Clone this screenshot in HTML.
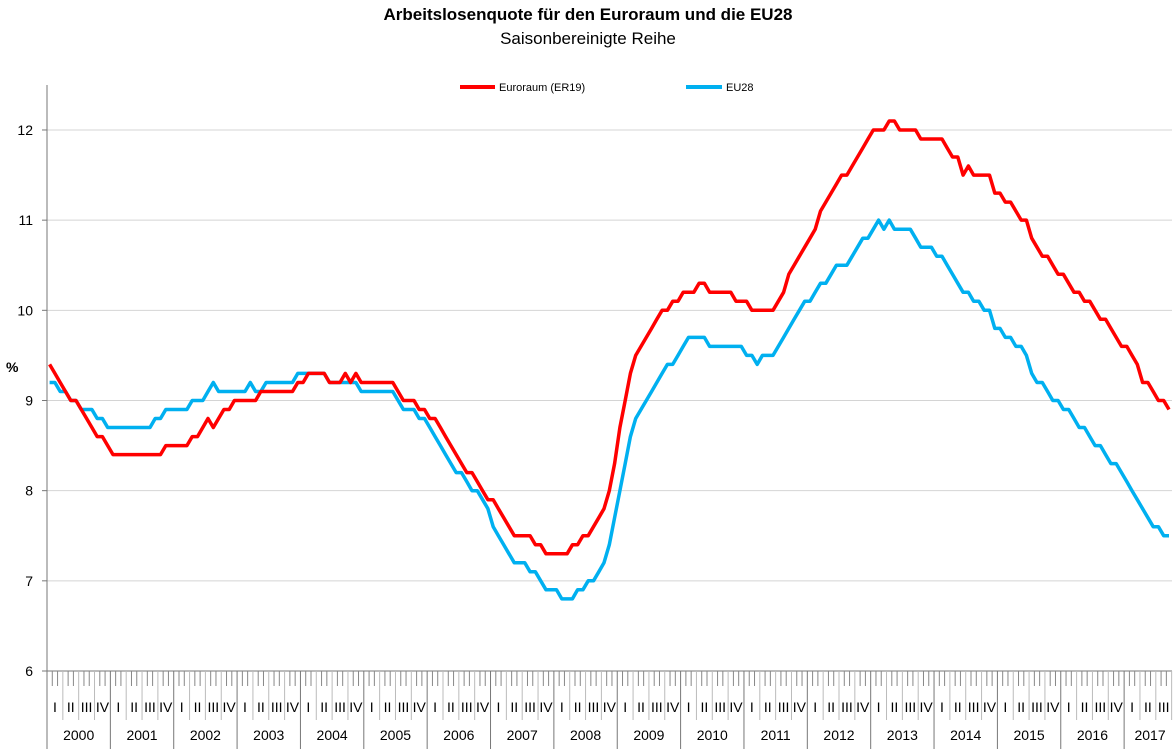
<!DOCTYPE html>
<html><head><meta charset="utf-8">
<style>
html,body{margin:0;padding:0;background:#fff;}
svg{display:block;font-family:"Liberation Sans",Arial,sans-serif;}
</style></head>
<body>
<svg id="chart" width="1175" height="749" viewBox="0 0 1175 749">
<text x="588" y="20" text-anchor="middle" font-size="17" font-weight="bold">Arbeitslosenquote für den Euroraum und die EU28</text>
<text x="588" y="44" text-anchor="middle" font-size="17">Saisonbereinigte Reihe</text>
<g>
<line x1="460" y1="87" x2="495" y2="87" stroke="#ff0000" stroke-width="4"/>
<text x="499" y="91" font-size="11">Euroraum (ER19)</text>
<line x1="686" y1="87" x2="722" y2="87" stroke="#00b0f0" stroke-width="4"/>
<text x="726" y="91" font-size="11">EU28</text>
</g>
<text x="6" y="372" font-size="14" font-weight="bold">%</text>
<g id="grid"></g><g id="axes"></g><g id="series"></g>
</svg>
<script>
const yTicks=[6,7,8,9,10,11,12];
const years=["2000","2001","2002","2003","2004","2005","2006","2007","2008","2009","2010","2011","2012","2013","2014","2015","2016","2017"];
const quarters=["I","II","III","IV"];
const euro=[
9.4,9.3,9.2,9.1,9.0,9.0,8.9,8.8,8.7,8.6,8.6,8.5,
8.4,8.4,8.4,8.4,8.4,8.4,8.4,8.4,8.4,8.4,8.5,8.5,
8.5,8.5,8.5,8.6,8.6,8.7,8.8,8.7,8.8,8.9,8.9,9.0,
9.0,9.0,9.0,9.0,9.1,9.1,9.1,9.1,9.1,9.1,9.1,9.2,
9.2,9.3,9.3,9.3,9.3,9.2,9.2,9.2,9.3,9.2,9.3,9.2,
9.2,9.2,9.2,9.2,9.2,9.2,9.1,9.0,9.0,9.0,8.9,8.9,
8.8,8.8,8.7,8.6,8.5,8.4,8.3,8.2,8.2,8.1,8.0,7.9,
7.9,7.8,7.7,7.6,7.5,7.5,7.5,7.5,7.4,7.4,7.3,7.3,
7.3,7.3,7.3,7.4,7.4,7.5,7.5,7.6,7.7,7.8,8.0,8.3,
8.7,9.0,9.3,9.5,9.6,9.7,9.8,9.9,10.0,10.0,10.1,10.1,
10.2,10.2,10.2,10.3,10.3,10.2,10.2,10.2,10.2,10.2,10.1,10.1,
10.1,10.0,10.0,10.0,10.0,10.0,10.1,10.2,10.4,10.5,10.6,10.7,
10.8,10.9,11.1,11.2,11.3,11.4,11.5,11.5,11.6,11.7,11.8,11.9,
12.0,12.0,12.0,12.1,12.1,12.0,12.0,12.0,12.0,11.9,11.9,11.9,
11.9,11.9,11.8,11.7,11.7,11.5,11.6,11.5,11.5,11.5,11.5,11.3,
11.3,11.2,11.2,11.1,11.0,11.0,10.8,10.7,10.6,10.6,10.5,10.4,
10.4,10.3,10.2,10.2,10.1,10.1,10.0,9.9,9.9,9.8,9.7,9.6,
9.6,9.5,9.4,9.2,9.2,9.1,9.0,9.0,8.9];
const eu28=[
9.2,9.2,9.1,9.1,9.0,9.0,8.9,8.9,8.9,8.8,8.8,8.7,
8.7,8.7,8.7,8.7,8.7,8.7,8.7,8.7,8.8,8.8,8.9,8.9,
8.9,8.9,8.9,9.0,9.0,9.0,9.1,9.2,9.1,9.1,9.1,9.1,
9.1,9.1,9.2,9.1,9.1,9.2,9.2,9.2,9.2,9.2,9.2,9.3,
9.3,9.3,9.3,9.3,9.3,9.2,9.2,9.2,9.2,9.2,9.2,9.1,
9.1,9.1,9.1,9.1,9.1,9.1,9.0,8.9,8.9,8.9,8.8,8.8,
8.7,8.6,8.5,8.4,8.3,8.2,8.2,8.1,8.0,8.0,7.9,7.8,
7.6,7.5,7.4,7.3,7.2,7.2,7.2,7.1,7.1,7.0,6.9,6.9,
6.9,6.8,6.8,6.8,6.9,6.9,7.0,7.0,7.1,7.2,7.4,7.7,
8.0,8.3,8.6,8.8,8.9,9.0,9.1,9.2,9.3,9.4,9.4,9.5,
9.6,9.7,9.7,9.7,9.7,9.6,9.6,9.6,9.6,9.6,9.6,9.6,
9.5,9.5,9.4,9.5,9.5,9.5,9.6,9.7,9.8,9.9,10.0,10.1,
10.1,10.2,10.3,10.3,10.4,10.5,10.5,10.5,10.6,10.7,10.8,10.8,
10.9,11.0,10.9,11.0,10.9,10.9,10.9,10.9,10.8,10.7,10.7,10.7,
10.6,10.6,10.5,10.4,10.3,10.2,10.2,10.1,10.1,10.0,10.0,9.8,
9.8,9.7,9.7,9.6,9.6,9.5,9.3,9.2,9.2,9.1,9.0,9.0,
8.9,8.9,8.8,8.7,8.7,8.6,8.5,8.5,8.4,8.3,8.3,8.2,
8.1,8.0,7.9,7.8,7.7,7.6,7.6,7.5,7.5];

const NS="http://www.w3.org/2000/svg";
const X0=47, X1=1172, MW=5.28, YW=MW*12;
const yScale=v=>671-(v-6)*90.17;
const xScale=i=>X0+(i+0.5)*MW;
function mk(tag,attrs,parent){const e=document.createElementNS(NS,tag);for(const k in attrs)e.setAttribute(k,attrs[k]);parent.appendChild(e);return e;}
const grid=document.getElementById('grid'),axes=document.getElementById('axes'),series=document.getElementById('series');

yTicks.forEach(t=>{
  const y=yScale(t);
  if(t>6){const g=mk('line',{x1:X0,x2:X1,y1:y,y2:y,stroke:'#d4d4d4','stroke-width':1},grid);
  
  }
  const tk=mk('line',{x1:X0-5,x2:X0,y1:y,y2:y,stroke:'#777'},axes);
  
  
  const lb=mk('text',{x:X0-14,y:y+5,'text-anchor':'end','font-size':14},axes);
  lb.textContent=t;
  
  
});
const ya=mk('line',{x1:X0,x2:X0,y1:85,y2:749,stroke:'#777'},axes);


const xa=mk('line',{x1:X0,x2:X1,y1:671,y2:671,stroke:'#777'},axes);



const nMonths=years.length*12;
for(let m=0;m<=nMonths;m++){
  const x=X0+m*MW; if(x>X1+1)break;
  const isYear=m%12===0, isQ=m%3===0;
  const t=mk('line',{x1:x,x2:x,y1:671,y2:isYear?749:(isQ?720:686),stroke:isYear?'#777':(isQ?'#bbb':'#888'),'stroke-width':1},axes);
  
  
}
years.forEach((yr,i)=>{
  const xs=X0+i*YW;
  quarters.forEach((q,j)=>{
    const cx=xs+(j*3+1.5)*MW; if(cx>X1)return;
    const t=mk('text',{x:cx,y:712,'text-anchor':'middle','font-size':14},axes);
    t.textContent=q;
    
    
  });
  const cx=Math.min(xs+YW/2,(xs+X1)/2+2);
  const t=mk('text',{x:cx,y:740,'text-anchor':'middle','font-size':14},axes);
  t.textContent=yr;
  
  
});

function drawLine(arr,color,name){
  const d=arr.map((v,i)=>(i?'L':'M')+xScale(i).toFixed(1)+','+yScale(v).toFixed(1)).join(' ');
  const p=mk('path',{d:d,fill:'none',stroke:color,'stroke-width':3.5,'stroke-linejoin':'round'},series);
  
  
}
drawLine(eu28,'#00b0f0','line-eu28');
drawLine(euro,'#ff0000','line-euroraum');
</script>
</body></html>
